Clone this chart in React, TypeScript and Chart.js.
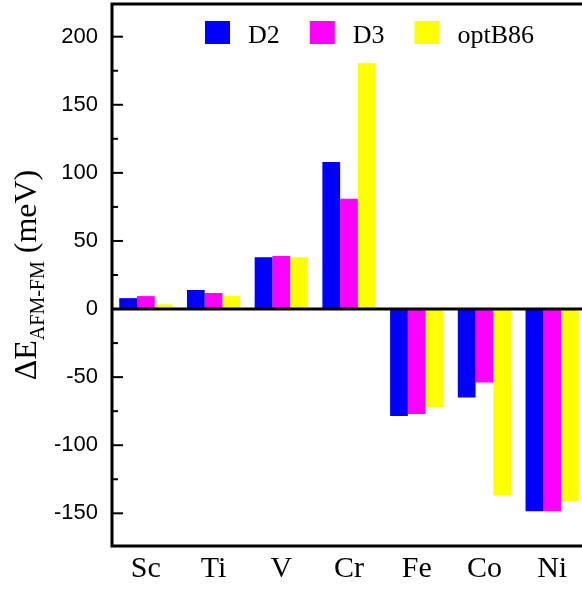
import React, { useEffect, useRef } from "react";
import { Chart, registerables } from "chart.js";

Chart.register(...registerables);

const categories = ["Sc", "Ti", "V", "Cr", "Fe", "Co", "Ni"];
const seriesLabels = ["D2", "D3", "optB86"];
const d2Values = [8, 14, 38, 108, -78.5, -65, -148.5];
const d3Values = [9.5, 11.8, 39, 81, -77, -54, -148.5];
const optB86Values = [3.4, 9.5, 38, 180.5, -72, -137, -141];
const seriesColors = ["#0000FF", "#FF00FF", "#FFFF00"];
const yTickValues = [-150, -100, -50, 0, 50, 100, 150, 200];
const yMinorTickValues = [-125, -75, -25, 25, 75, 125, 175];

const SERIF = '"Liberation Serif", "Times New Roman", serif';
const SANS = '"Liberation Sans", Arial, sans-serif';

const framePlugin = {
  id: "frame",
  afterDatasetsDraw(chart: any) {
    const { ctx, chartArea, scales } = chart;
    const { left, top, right, bottom } = chartArea;
    const y = scales.y;
    ctx.save();
    ctx.strokeStyle = "#000";
    ctx.lineWidth = 3;
    const y0 = y.getPixelForValue(0);
    ctx.beginPath();
    ctx.moveTo(left, y0);
    ctx.lineTo(right + 10, y0);
    ctx.stroke();
    ctx.beginPath();
    ctx.moveTo(right + 10, top);
    ctx.lineTo(left, top);
    ctx.lineTo(left, bottom);
    ctx.lineTo(right + 10, bottom);
    ctx.stroke();
    ctx.lineWidth = 2;
    yTickValues.forEach((v) => {
      const py = y.getPixelForValue(v);
      ctx.beginPath();
      ctx.moveTo(left, py);
      ctx.lineTo(left + 11, py);
      ctx.stroke();
    });
    yMinorTickValues.forEach((v) => {
      const py = y.getPixelForValue(v);
      ctx.beginPath();
      ctx.moveTo(left, py);
      ctx.lineTo(left + 6, py);
      ctx.stroke();
    });
    ctx.restore();
  },
};

const legendPlugin = {
  id: "customLegend",
  afterDraw(chart: any) {
    const { ctx } = chart;
    ctx.save();
    ctx.font = `26px ${SERIF}`;
    ctx.textBaseline = "alphabetic";
    let x = 205;
    const boxTop = 21;
    chart.data.datasets.forEach((ds: any) => {
      ctx.fillStyle = ds.backgroundColor;
      ctx.fillRect(x, boxTop, 25, 23);
      x += 25 + 18;
      ctx.fillStyle = "#000";
      ctx.fillText(ds.label, x, 43);
      x += ctx.measureText(ds.label).width + 30;
    });
    ctx.restore();
  },
};

const titlePlugin = {
  id: "yTitle",
  afterDraw(chart: any) {
    const { ctx, chartArea } = chart;
    const cy = (chartArea.top + chartArea.bottom) / 2;
    const mainFont = `32px ${SERIF}`;
    const subFont = `20px ${SERIF}`;
    const p1 = "\u0394E";
    const p2 = "AFM-FM";
    const p3 = " (meV)";
    ctx.save();
    ctx.font = mainFont;
    const w1 = ctx.measureText(p1).width;
    const w3 = ctx.measureText(p3).width;
    ctx.font = subFont;
    const w2 = ctx.measureText(p2).width;
    const total = w1 + w2 + w3;
    ctx.translate(36, cy);
    ctx.rotate(-Math.PI / 2);
    ctx.fillStyle = "#000";
    ctx.textBaseline = "alphabetic";
    let x = -total / 2;
    ctx.font = mainFont;
    ctx.fillText(p1, x, 0);
    x += w1;
    ctx.font = subFont;
    ctx.fillText(p2, x, 8);
    x += w2;
    ctx.font = mainFont;
    ctx.fillText(p3, x, 0);
    ctx.restore();
  },
};

export default function App() {
  const canvasRef = useRef<HTMLCanvasElement | null>(null);

  useEffect(() => {
    if (!canvasRef.current) return;
    const seriesValues = [d2Values, d3Values, optB86Values];
    const chart = new Chart(canvasRef.current, {
      type: "bar",
      data: {
        labels: categories,
        datasets: seriesLabels.map((label, i) => ({
          label,
          data: seriesValues[i],
          backgroundColor: seriesColors[i],
          borderWidth: 0,
          barPercentage: 1,
          categoryPercentage: 0.786,
        })),
      },
      options: {
        responsive: false,
        animation: false,
        devicePixelRatio: 1,
        layout: { padding: { top: 4, left: 0, right: 0, bottom: 0 } },
        plugins: {
          legend: { display: false },
          tooltip: { enabled: false },
        },
        scales: {
          x: {
            grid: { display: false, drawTicks: false },
            border: { display: false },
            ticks: {
              font: { family: SERIF, size: 30 },
              color: "#000",
              padding: 5,
              maxRotation: 0,
              autoSkip: false,
            },
            afterFit: (s: any) => {
              s.height = 46;
              s.paddingLeft = 0;
              s.paddingRight = 0;
            },
          },
          y: {
            min: -174,
            max: 224,
            grid: { display: false, drawTicks: false },
            border: { display: false },
            ticks: {
              font: { family: SANS, size: 22 },
              color: "#000",
              padding: 14,
            },
            afterBuildTicks: (s: any) => {
              s.ticks = yTickValues.map((v) => ({ value: v }));
            },
            afterFit: (s: any) => {
              s.width = 112;
              s.paddingTop = 0;
              s.paddingBottom = 0;
            },
          },
        },
      },
      plugins: [framePlugin, legendPlugin, titlePlugin],
    });
    return () => chart.destroy();
  }, []);

  return (
    <div
      style={{
        position: "fixed",
        left: 0,
        top: 0,
        width: 582,
        height: 592,
        overflow: "hidden",
        background: "#fff",
      }}
    >
      <canvas ref={canvasRef} width={586} height={592} style={{ display: "block" }} />
    </div>
  );
}
